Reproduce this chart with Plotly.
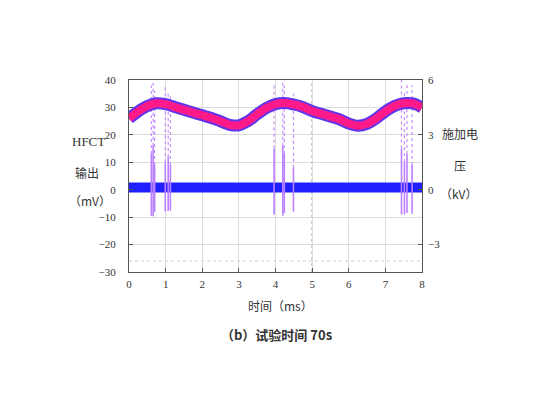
"""HFCT output and applied voltage over time (test time 70 s)."""

import plotly.graph_objects as go

# Applied voltage waveform (kV, right axis)
volt_t = [0, 0.25, 0.5, 0.75, 1.0, 1.25, 1.5, 1.75, 2.0, 2.25, 2.5, 2.75, 3.0,
          3.25, 3.5, 3.75, 4.0, 4.25, 4.5, 4.75, 5.0, 5.25, 5.5, 5.75, 6.0,
          6.25, 6.5, 6.75, 7.0, 7.25, 7.5, 7.75, 8.0]
volt_kv = [3.90, 4.28, 4.58, 4.73, 4.68, 4.52, 4.37, 4.22, 4.07, 3.92, 3.74,
           3.55, 3.52, 3.75, 4.13, 4.47, 4.68, 4.74, 4.66, 4.52, 4.30, 4.15,
           4.00, 3.85, 3.62, 3.50, 3.60, 3.90, 4.28, 4.58, 4.73, 4.72, 4.50]

# HFCT background noise band (mV)
noise_t = [0, 8]
noise_mv = [0.8, 0.8]

# Partial discharge pulses (mV)
pulse_t = [0.61, 0.66, 0.70, 0.99, 1.07, 1.13, 3.96, 4.20, 4.24, 4.49,
           7.44, 7.52, 7.59, 7.73]
pulse_lo = [-9.5, -9.7, -8.0, -8.0, -7.8, -7.6, -9.0, -9.5, -8.5, -8.0,
            -9.0, -9.0, -8.5, -8.8]
pulse_hi = [13, 16, 9, 10, 12, 9, 15, 16, 13, 8, 15, 10, 13, 9]
pulse_dot_top = [38, 40, 36, 38, 36, 34, 39, 40, 38, 35, 40, 36, 39, 38]

x_ticks = [0, 1, 2, 3, 4, 5, 6, 7, 8]
y_ticks = [-30, -20, -10, 0, 10, 20, 30, 40]
y2_ticks = [-3, 0, 3, 6]

SERIF = "Liberation Serif, Noto Sans CJK SC, serif"
CJK = "Noto Sans CJK SC, Liberation Serif, serif"

# page body has an 8 px margin, so the figure sits at (8, 8) in the window
OFF = 8
L, R, T, B = 129 - OFF, 128 + OFF, 80 - OFF, 140 + OFF

fig = go.Figure()

# sparse dotted tails above the pulses
for t, hi, top in zip(pulse_t, pulse_hi, pulse_dot_top):
    fig.add_trace(go.Scatter(
        x=[t, t], y=[hi, top], mode="lines",
        line=dict(color="#c48cff", width=1.2, dash="dot"),
        showlegend=False, hoverinfo="skip",
    ))

# noise band around 0 mV
fig.add_trace(go.Scatter(
    x=noise_t, y=noise_mv, mode="lines",
    line=dict(color="#1f1fff", width=10),
    showlegend=False, hoverinfo="skip",
))

# pulses
for t, lo, hi in zip(pulse_t, pulse_lo, pulse_hi):
    fig.add_trace(go.Scatter(
        x=[t, t], y=[lo, hi], mode="lines",
        line=dict(color="#bb80ff", width=1.6),
        showlegend=False, hoverinfo="skip",
    ))

# voltage band: blue-violet edge + pink core
fig.add_trace(go.Scatter(
    x=volt_t, y=volt_kv, mode="lines", yaxis="y2",
    line=dict(color="#5f34ec", width=12, shape="spline"),
    showlegend=False, hoverinfo="skip",
))
fig.add_trace(go.Scatter(
    x=volt_t, y=volt_kv, mode="lines", yaxis="y2",
    line=dict(color="#ff1a8a", width=8, shape="spline"),
    showlegend=False, hoverinfo="skip",
))

# darker dotted line at 5 ms and faint dotted line near -26 mV
fig.add_shape(type="line", xref="x", yref="paper", x0=5, x1=5, y0=0, y1=1,
              line=dict(color="#777", width=1, dash="dot"), layer="below")
fig.add_shape(type="line", xref="paper", yref="y", x0=0, x1=1, y0=-26, y1=-26,
              line=dict(color="#cfcfcf", width=1, dash="dot"), layer="below")

fig.update_layout(
    width=550, height=412,
    paper_bgcolor="white", plot_bgcolor="white",
    margin=dict(l=L, r=R, t=T, b=B),
    xaxis=dict(
        range=[0, 8], tickvals=x_ticks, ticks="inside", ticklen=4,
        tickcolor="#555", showgrid=True, gridcolor="#dcdcdc", gridwidth=1,
        showline=True, linecolor="#555", linewidth=1, mirror=True,
        zeroline=False, automargin=False, ticklabelstandoff=2,
        tickfont=dict(family=SERIF, size=11, color="#333"),
    ),
    yaxis=dict(
        range=[-30, 40], tickvals=y_ticks, ticks="inside", ticklen=4,
        tickcolor="#555", showgrid=True, gridcolor="#dcdcdc", gridwidth=1,
        showline=True, linecolor="#555", linewidth=1, mirror=True,
        zeroline=False, automargin=False, ticklabelstandoff=10,
        tickfont=dict(family=SERIF, size=11, color="#333"),
    ),
    yaxis2=dict(
        range=[-4.5, 6], tickvals=y2_ticks, overlaying="y", side="right",
        ticks="inside", ticklen=4, tickcolor="#555", showgrid=False,
        zeroline=False, automargin=False, ticklabelstandoff=5,
        tickfont=dict(family=SERIF, size=11, color="#333"),
    ),
)

# axis titles and caption (positions in window pixels)
notes = [
    ("HFCT", 88, 141, SERIF, 13),
    ("输出", 87, 172, CJK, 12),
    ("（mV）", 90, 200, CJK, 12),
    ("施加电", 460, 133, CJK, 12),
    ("压", 460, 165, CJK, 12),
    ("（kV）", 459, 193, CJK, 12),
    ("时间（ms）", 280, 305, CJK, 12),
    ("<b>（b）试验时间 70s</b>", 276, 334, CJK, 13),
]
pw, ph = 550 - L - R, 412 - T - B
for text, px, py, fam, size in notes:
    fig.add_annotation(
        text=text, xref="paper", yref="paper",
        x=(px - OFF - L) / pw, y=1 - (py - OFF - T) / ph,
        showarrow=False, xanchor="center", yanchor="middle",
        font=dict(family=fam, size=size, color="#333"),
    )

fig.write_html("out.html")
